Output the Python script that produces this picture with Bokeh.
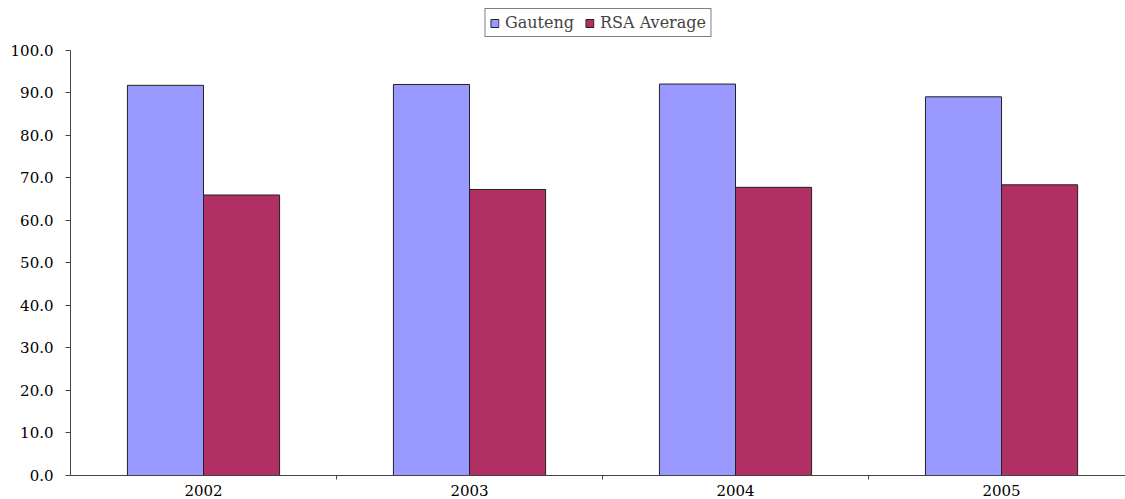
import numpy as np
from bokeh.plotting import figure
from bokeh.models import (Range1d, FixedTicker, NumeralTickFormatter, Legend, LegendItem,
                          ColumnDataSource)
from bokeh.embed import file_html
from bokeh.resources import INLINE

years = ["2002", "2003", "2004", "2005"]
gauteng = [91.8, 92.0, 92.1, 89.1]
rsa_average = [66.0, 67.3, 67.8, 68.4]
series_names = ["Gauteng", "RSA Average"]
y_ticks = [0, 10, 20, 30, 40, 50, 60, 70, 80, 90, 100]

FONT = "DejaVu Serif"
bar_w = 0.286
idx = np.arange(len(years)) + 0.5

p = figure(width=1125, height=499, output_backend="svg", toolbar_location=None,
           x_range=Range1d(0, 3.966), y_range=Range1d(0, 111.76),
           min_border_left=70, min_border_right=0, min_border_top=0, min_border_bottom=24)
p.outline_line_color = None
p.xgrid.visible = False
p.ygrid.visible = False
p.background_fill_color = "white"
p.border_fill_color = "white"

src = ColumnDataSource(dict(xg=idx - bar_w / 2, xr=idx + bar_w / 2, g=gauteng, r=rsa_average))
rg = p.vbar(x="xg", top="g", width=bar_w, source=src, fill_color="#9999FF",
            line_color="#222222", line_width=1)
rr = p.vbar(x="xr", top="r", width=bar_w, source=src, fill_color="#B03064",
            line_color="#222222", line_width=1)

# y axis
p.yaxis.ticker = FixedTicker(ticks=y_ticks, minor_ticks=[])
p.yaxis.formatter = NumeralTickFormatter(format="0.0")
p.yaxis.bounds = (0, 100)
p.yaxis.major_tick_out = 5
p.yaxis.major_tick_in = 0
p.yaxis.minor_tick_line_color = None
p.yaxis.major_label_standoff = 12
p.yaxis.axis_line_color = "#444444"
p.yaxis.major_tick_line_color = "#444444"
p.yaxis.major_label_text_font = FONT
p.yaxis.major_label_text_font_size = "15px"
p.yaxis.major_label_text_color = "black"

# x axis
p.xaxis.ticker = FixedTicker(ticks=list(idx), minor_ticks=[1, 2, 3])
p.xaxis.major_label_overrides = {float(v): y for v, y in zip(idx, years)}
p.xaxis.major_tick_line_color = None
p.xaxis.major_tick_out = 4
p.xaxis.minor_tick_out = 4
p.xaxis.minor_tick_in = 0
p.xaxis.minor_tick_line_color = "#444444"
p.xaxis.axis_line_color = "#444444"
p.xaxis.major_label_standoff = 5
p.xaxis.major_label_text_font = FONT
p.xaxis.major_label_text_font_size = "15px"
p.xaxis.major_label_text_color = "black"

legend = Legend(items=[LegendItem(label=series_names[0], renderers=[rg]),
                       LegendItem(label=series_names[1], renderers=[rr])],
                location="top", orientation="horizontal")
legend.margin = 8
legend.padding = 4
legend.spacing = 10
legend.glyph_width = 10
legend.glyph_height = 10
legend.label_standoff = 6
legend.label_text_font = FONT
legend.label_text_font_size = "16px"
legend.label_height = 14
legend.border_line_color = "black"
legend.border_line_width = 1
legend.background_fill_color = "white"
legend.background_fill_alpha = 1
p.add_layout(legend)

open("out.html", "w").write(file_html(p, INLINE))
